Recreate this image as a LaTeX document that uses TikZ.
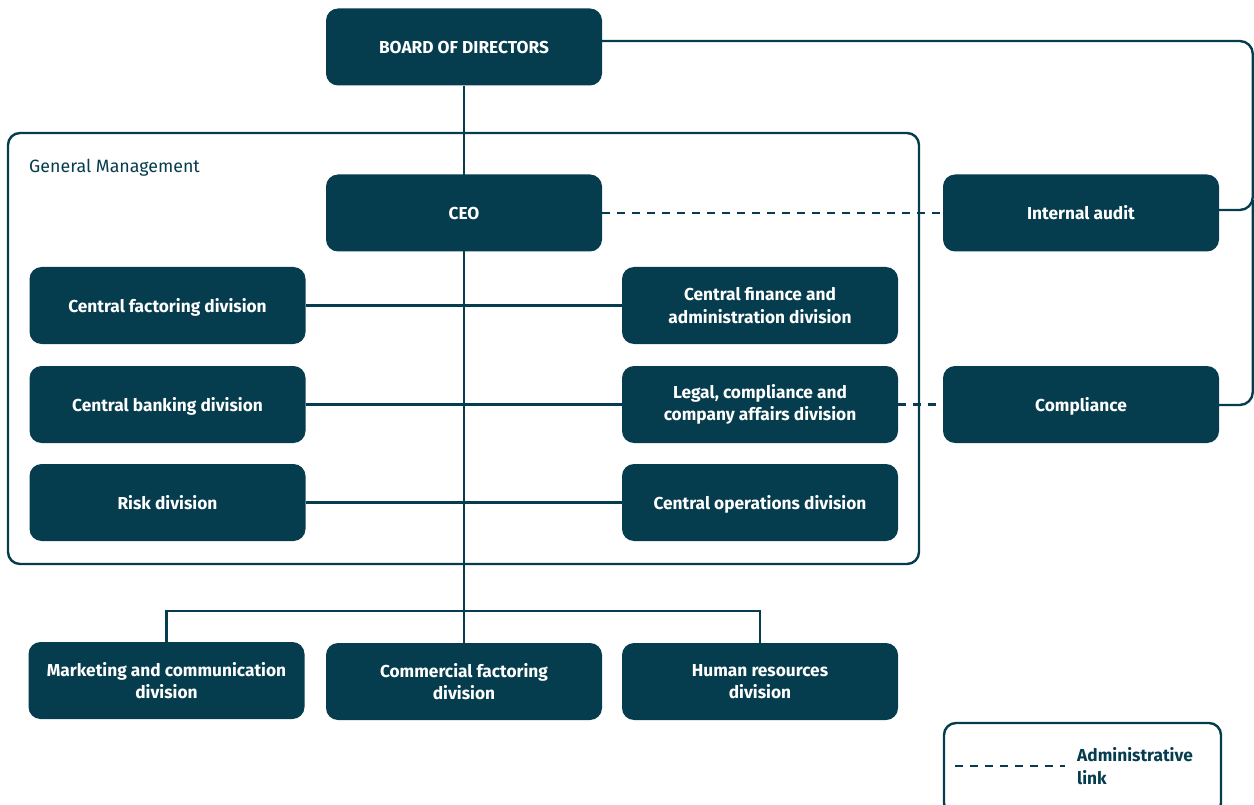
\documentclass[tikz,border=0pt]{standalone}
\usepackage{fontspec}
\setmainfont{Fira Sans}
\usetikzlibrary{positioning,backgrounds}
\definecolor{teal}{HTML}{053C4E}
\tikzset{
  box/.style={rectangle, rounded corners=12pt, fill=teal, draw=none,
    minimum width=276pt, minimum height=77pt, text=white, align=center,
    font=\fontsize{17.3}{22.5}\selectfont\bfseries, inner sep=2pt},
  oneline/.style={text height=14.5pt, text depth=0.5pt},
  link/.style={draw=teal, line width=2.4pt},
  admin/.style={draw=teal, line width=2.4pt, dash pattern=on 8pt off 7pt},
  frame/.style={draw=teal, line width=2.4pt, rounded corners=12pt}
}
\begin{document}
\begin{tikzpicture}[x=1pt,y=-1pt]
\useasboundingbox (0,0) rectangle (1254,805);
% general management frame
\draw[frame] (8,133) rectangle (919,564);
\node[anchor=west, text=teal, font=\fontsize{17.8}{20}\selectfont, inner sep=0pt] (gmlabel) at (29,168) {General Management};
% boxes
\node[box, oneline] (board) at (464,47) {BOARD OF DIRECTORS};
\node[box, oneline] (ceo) at (464,213) {CEO};
\node[box, oneline] (audit) at (1081,213) {Internal audit};
\node[box, oneline] (cfact) at (167.5,305.5) {Central factoring division};
\node[box] (cfin) at (760,305.5) {Central finance and\\administration division};
\node[box, oneline] (cbank) at (167.5,404.5) {Central banking division};
\node[box] (legal) at (760,404.5) {Legal, compliance and\\company affairs division};
\node[box, oneline] (compl) at (1081,404.5) {Compliance};
\node[box, oneline] (risk) at (167.5,502.5) {Risk division};
\node[box, oneline] (cops) at (760,502.5) {Central operations division};
\node[box] (mkt) at (166.5,680.5) {Marketing and communication\\division};
\node[box] (comf) at (464,681.5) {Commercial factoring\\division};
\node[box] (hr) at (760,681.5) {Human resources\\division};
\begin{scope}[on background layer]
% main trunk
\draw[link] (board.south) -- (comf.north);
\draw[link] (cfact.east) -- (cfin.west);
\draw[link] (cbank.east) -- (legal.west);
\draw[link] (risk.east) -- (cops.west);
\coordinate (split) at (464,611);
\draw[link] (mkt.north) |- (split) -| (hr.north);
% administrative links
\draw[admin] (ceo.east) -- (audit.west);
\draw[admin] (legal.east) -- (compl.west);
% board reporting line
\coordinate (b1) at (board.east |- 0,41);
\coordinate (a1) at (audit.east |- 0,210);
\coordinate (c1) at (compl.east |- 0,405);
\draw[link, rounded corners=13pt] (b1) -- (1252.8,41) -- (1252.8,210) -- (a1);
\draw[link, rounded corners=13pt] (1252.8,200) -- (1252.8,405) -- (c1);
\end{scope}
% legend
\draw[frame] (944,723) rectangle (1221,815);
\coordinate (l1) at (955,766);
\coordinate (l2) at (1065,766);
\draw[admin] (l1) -- (l2);
\node[anchor=west, align=left, text=teal, font=\fontsize{17.3}{22.5}\selectfont\bfseries, inner sep=0pt] (legtext) at (1077,766) {Administrative\\link};
\end{tikzpicture}
\end{document}
